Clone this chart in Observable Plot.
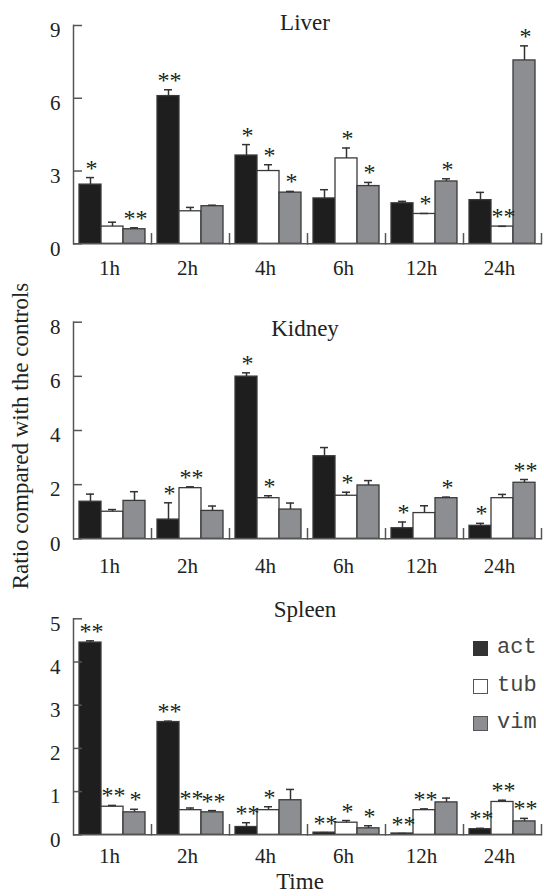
<!DOCTYPE html>
<html><head><meta charset="utf-8">
<script src="https://cdn.jsdelivr.net/npm/d3@7"></script>
<script src="https://cdn.jsdelivr.net/npm/@observablehq/plot@0.6"></script>
<style>
body{margin:0;background:#fff;}
#wrap{position:relative;width:544px;height:896px;overflow:hidden;font-family:'Liberation Serif','Times New Roman',serif;color:#222;}
.panel{position:absolute;left:0;}
.panel, .panel text{font-family:'Liberation Serif','Times New Roman',serif !important;}
.txt{position:absolute;font-size:23px;line-height:20px;transform:translate(-50%,-50%);white-space:nowrap;}
.ytitle{position:absolute;font-size:23px;line-height:23px;transform:translate(-50%,-50%) rotate(-90deg);white-space:nowrap;}
.leg{position:absolute;left:473px;height:16px;display:flex;align-items:center;}
.leg .box{width:15px;height:15px;box-sizing:border-box;border:1px solid #555;}
.leg .lab{margin-left:9px;font-family:'Liberation Mono','DejaVu Sans Mono',monospace;font-size:22px;color:#444;line-height:16px;}
</style></head><body><div id="wrap"></div>
<script>
const times = ["1h","2h","4h","6h","12h","24h"];
const series = ["act","tub","vim"];
const fills = ["#1e1e1e","#ffffff","#8d8e92"];

// Liver
const liverAct = [2.44, 6.09, 3.64, 1.87, 1.67, 1.80];
const liverActSE = [0.29, 0.26, 0.45, 0.36, 0.08, 0.32];
const liverActSig = ["*","**","*","","",""];
const liverTub = [0.71, 1.34, 3.00, 3.52, 1.23, 0.71];
const liverTubSE = [0.18, 0.16, 0.26, 0.43, 0.02, 0.01];
const liverTubSig = ["","","*","*","*","**"];
const liverVim = [0.60, 1.55, 2.11, 2.38, 2.57, 7.56];
const liverVimSE = [0.06, 0.04, 0.05, 0.15, 0.11, 0.60];
const liverVimSig = ["**","","*","*","*","*"];
const liverTicks = [0, 3, 6, 9];

// Kidney
const kidneyAct = [1.37, 0.71, 5.99, 3.05, 0.39, 0.48];
const kidneyActSE = [0.28, 0.62, 0.14, 0.32, 0.23, 0.09];
const kidneyActSig = ["","*","*","","*","*"];
const kidneyTub = [1.00, 1.87, 1.50, 1.59, 0.95, 1.50];
const kidneyTubSE = [0.08, 0.05, 0.09, 0.13, 0.27, 0.14];
const kidneyTubSig = ["","**","*","*","",""];
const kidneyVim = [1.40, 1.03, 1.08, 1.97, 1.50, 2.07];
const kidneyVimSE = [0.34, 0.18, 0.24, 0.18, 0.04, 0.12];
const kidneyVimSig = ["","","","","*","**"];
const kidneyTicks = [0, 2, 4, 6, 8];

// Spleen
const spleenAct = [4.45, 2.61, 0.18, 0.05, 0.03, 0.13];
const spleenActSE = [0.04, 0.02, 0.10, 0.00, 0.00, 0.02];
const spleenActSig = ["**","**","**","**","**","**"];
const spleenTub = [0.65, 0.57, 0.57, 0.28, 0.57, 0.76];
const spleenTubSE = [0.03, 0.05, 0.08, 0.05, 0.03, 0.04];
const spleenTubSig = ["**","**","*","*","**","**"];
const spleenVim = [0.52, 0.52, 0.80, 0.15, 0.75, 0.31];
const spleenVimSE = [0.07, 0.04, 0.25, 0.06, 0.10, 0.07];
const spleenVimSig = ["*","**","","*","","**"];
const spleenTicks = [0, 1, 2, 3, 4, 5];

function rowsOf(vals, ses, sigs) {
  const rows = [];
  times.forEach((t, i) => series.forEach((s, j) => rows.push({time: t, series: s, value: vals[j][i], se: ses[j][i], sig: sigs[j][i]})));
  return rows;
}

const wrap = document.getElementById("wrap");
const axisColor = "#555";
const serif = "'Liberation Serif','Times New Roman',serif";

function drawPanel({top, height, zeroY, maxY, yTicks, rows, labelPad, title, titleY}) {
  const marginTop = maxY - top;
  const marginBottom = top + height - zeroY;
  const plotH = zeroY - maxY;
  const yMax = yTicks[yTicks.length - 1];
  const chart = Plot.plot({
    width: 544, height, marginLeft: 73, marginRight: 3, marginTop, marginBottom,
    style: {background: "transparent", fontSize: "21px", color: "#222", overflow: "visible"},
    fx: {domain: times, padding: 0, label: null},
    x: {domain: series, paddingInner: 0, paddingOuter: 0.25, axis: null},
    y: {domain: [0, yMax], label: null},
    color: {domain: series, range: fills},
    marks: [
      Plot.barY(rows, {fx: "time", x: "series", y: "value", fill: "series", stroke: "#3a3a3a", strokeWidth: 1.3, inset: 0}),
      Plot.ruleX(rows, {fx: "time", x: "series", y1: "value", y2: d => d.value + d.se, stroke: "#333", strokeWidth: 1.5}),
      Plot.tickY(rows, {fx: "time", x: "series", y: d => d.value + d.se, stroke: "#333", strokeWidth: 1.5, insetLeft: 7, insetRight: 7}),
      Plot.text(rows.filter(d => d.sig), {fx: "time", x: "series", y: d => d.value + d.se, text: "sig", lineAnchor: "bottom", dy: -2, dx: 1, fontSize: 24, fill: "#222", ariaLabel: "stars"}),
      Plot.ruleY([0], {stroke: axisColor, strokeWidth: 1.5}),
      Plot.frame({anchor: "left", facetAnchor: "left", stroke: axisColor, strokeWidth: 1.5}),
      Plot.frame({anchor: "right", insetTop: plotH - 10, stroke: axisColor, strokeWidth: 1.5}),
      Plot.tickY(yTicks, {y: d => d, facetAnchor: "left", insetRight: 69, stroke: axisColor, strokeWidth: 1.5}),
      Plot.axisY({ticks: yTicks, tickFormat: d => String(d), tickSize: 0, tickPadding: 13, dy: 5, fontSize: 21, label: null}),
      Plot.axisFx({anchor: "bottom", tickSize: 0, tickPadding: labelPad, fontSize: 21, label: null, dx: -3})
    ]
  });
  d3.select(chart).selectAll("text").attr("font-family", serif).style("font-family", serif);
  d3.select(chart).selectAll("g").style("font-family", serif);
  d3.select(chart).selectAll('g[aria-label="stars"] text').style("letter-spacing", "-3px");
  chart.classList.add("panel");
  chart.style.top = top + "px";
  wrap.appendChild(chart);
  const t = document.createElement("div");
  t.className = "txt"; t.textContent = title;
  t.style.left = "305px"; t.style.top = titleY + "px";
  wrap.appendChild(t);
}

drawPanel({top: 0, height: 290, zeroY: 243.3, maxY: 25, yTicks: liverTicks,
  rows: rowsOf([liverAct, liverTub, liverVim], [liverActSE, liverTubSE, liverVimSE], [liverActSig, liverTubSig, liverVimSig]),
  labelPad: 16, title: "Liver", titleY: 23});
drawPanel({top: 295, height: 295, zeroY: 538.3, maxY: 321.7, yTicks: kidneyTicks,
  rows: rowsOf([kidneyAct, kidneyTub, kidneyVim], [kidneyActSE, kidneyTubSE, kidneyVimSE], [kidneyActSig, kidneyTubSig, kidneyVimSig]),
  labelPad: 19, title: "Kidney", titleY: 329});
drawPanel({top: 595, height: 275, zeroY: 834.3, maxY: 618.3, yTicks: spleenTicks,
  rows: rowsOf([spleenAct, spleenTub, spleenVim], [spleenActSE, spleenTubSE, spleenVimSE], [spleenActSig, spleenTubSig, spleenVimSig]),
  labelPad: 13, title: "Spleen", titleY: 610});

// axis titles
const yt = document.createElement("div");
yt.className = "ytitle"; yt.textContent = "Ratio compared with the controls";
yt.style.left = "20px"; yt.style.top = "436px";
wrap.appendChild(yt);
const xt = document.createElement("div");
xt.className = "txt"; xt.textContent = "Time";
xt.style.left = "300px"; xt.style.top = "882px";
wrap.appendChild(xt);

// legend
const legTops = [640, 678, 715];
series.forEach((s, i) => {
  const row = document.createElement("div");
  row.className = "leg"; row.style.top = legTops[i] + "px";
  const b = document.createElement("div");
  b.className = "box"; b.style.background = i === 0 ? "#333" : fills[i];
  if (i === 0) b.style.borderColor = "#333";
  const l = document.createElement("span");
  l.className = "lab"; l.textContent = s;
  row.appendChild(b); row.appendChild(l);
  wrap.appendChild(row);
});
</script>
</body></html>
